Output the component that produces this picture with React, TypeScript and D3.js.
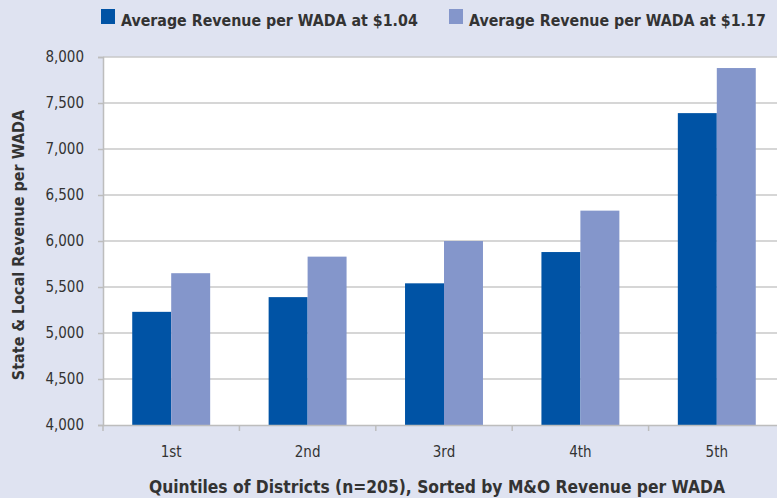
import React, { useRef, useEffect } from "react";
import * as d3 from "d3";

const quintiles = ["1st", "2nd", "3rd", "4th", "5th"];
const revenueAt104 = [5230, 5390, 5540, 5880, 7390];
const revenueAt117 = [5650, 5830, 6000, 6330, 7880];
const seriesNames = [
  "Average Revenue per WADA at $1.04",
  "Average Revenue per WADA at $1.17",
];
const yTicks = [4000, 4500, 5000, 5500, 6000, 6500, 7000, 7500, 8000];

const colors = ["#0053a5", "#8496cb"];
const font = "'DejaVu Sans Condensed', 'DejaVu Sans', sans-serif";

const App = () => {
  const svgRef = useRef<SVGSVGElement>(null);

  useEffect(() => {
    const svg = d3.select(svgRef.current);
    svg.selectAll("*").remove();
    const width = 777;
    const height = 498;
    const margin = { left: 103, top: 57, right: -8, bottom: 73 };

    svg.append("rect").attr("width", width).attr("height", height).attr("fill", "#dfe3f1");

    const x = d3
      .scaleBand()
      .domain(quintiles)
      .range([margin.left, width - margin.right])
      .paddingInner(0)
      .paddingOuter(0);
    const y = d3.scaleLinear().domain([4000, 8000]).range([height - margin.bottom, margin.top]);

    svg
      .append("rect")
      .attr("x", margin.left)
      .attr("y", margin.top)
      .attr("width", width - margin.right - margin.left)
      .attr("height", y(4000) - margin.top)
      .attr("fill", "#ffffff");

    // gridlines
    svg
      .append("g")
      .selectAll("line")
      .data(yTicks.slice(1))
      .enter()
      .append("line")
      .attr("x1", margin.left)
      .attr("x2", width)
      .attr("y1", (d) => y(d))
      .attr("y2", (d) => y(d))
      .attr("stroke", "#c9c9c9")
      .attr("stroke-width", 1.5);

    // bars
    const inner = d3.scaleBand().domain(["a", "b"]).range([0, x.bandwidth()]).paddingOuter(0.75).paddingInner(0);
    const rows = quintiles.map((q, i) => ({ q, vals: [revenueAt104[i], revenueAt117[i]] }));
    const grp = svg
      .append("g")
      .selectAll("g")
      .data(rows)
      .enter()
      .append("g")
      .attr("transform", (d) => `translate(${x(d.q)},0)`);
    grp
      .selectAll("rect")
      .data((d) => d.vals.map((v, k) => ({ v, k })))
      .enter()
      .append("rect")
      .attr("x", (d) => inner(d.k === 0 ? "a" : "b") as number)
      .attr("width", inner.bandwidth())
      .attr("y", (d) => y(d.v))
      .attr("height", (d) => y(4000) - y(d.v))
      .attr("fill", (d) => colors[d.k]);

    // y axis
    const yAxis = svg
      .append("g")
      .attr("transform", `translate(${margin.left},0)`)
      .call(
        d3
          .axisLeft(y)
          .tickValues(yTicks)
          .tickSize(5)
          .tickPadding(14)
          .tickFormat((d) => d3.format(",")(d as number))
      );
    yAxis.select(".domain").attr("stroke", "#bdbdbd").attr("stroke-width", 1.5);
    yAxis.selectAll(".tick line").attr("stroke", "#bdbdbd").attr("stroke-width", 1.5);
    yAxis
      .selectAll(".tick text")
      .attr("font-family", font)
      .attr("font-size", 15)
      .attr("fill", "#333");

    // x axis
    const xAxis = svg
      .append("g")
      .attr("transform", `translate(0,${y(4000)})`)
      .call(d3.axisBottom(x).tickSize(0).tickPadding(21));
    xAxis.select(".domain").attr("stroke", "#bdbdbd").attr("stroke-width", 1.5);
    xAxis
      .selectAll(".tick text")
      .attr("font-family", font)
      .attr("font-size", 15)
      .attr("fill", "#333");
    xAxis
      .selectAll("line.sep")
      .data(quintiles)
      .enter()
      .append("line")
      .attr("class", "sep")
      .attr("x1", (d) => x(d) as number)
      .attr("x2", (d) => x(d) as number)
      .attr("y1", 0)
      .attr("y2", 6)
      .attr("stroke", "#bdbdbd")
      .attr("stroke-width", 1.5);

    // axis titles
    svg
      .append("text")
      .attr("x", 437)
      .attr("y", 493)
      .attr("text-anchor", "middle")
      .attr("font-family", font)
      .attr("font-weight", "bold")
      .attr("font-size", 17.3)
      .attr("fill", "#333")
      .text("Quintiles of Districts (n=205), Sorted by M&O Revenue per WADA");
    svg
      .append("text")
      .attr("transform", `translate(24,245) rotate(-90)`)
      .attr("text-anchor", "middle")
      .attr("font-family", font)
      .attr("font-weight", "bold")
      .attr("font-size", 16)
      .attr("fill", "#333")
      .text("State & Local Revenue per WADA");

    // legend
    const legendX = [101, 449];
    const legend = svg
      .append("g")
      .selectAll("g")
      .data(seriesNames)
      .enter()
      .append("g")
      .attr("transform", (d, i) => `translate(${legendX[i]},9)`);
    legend
      .append("rect")
      .attr("width", 14)
      .attr("height", 15)
      .attr("fill", (d, i) => colors[i]);
    legend
      .append("text")
      .attr("x", 20)
      .attr("y", 17)
      .attr("font-family", font)
      .attr("font-weight", "bold")
      .attr("font-size", 15.8)
      .attr("fill", "#333")
      .text((d) => d);
  }, []);

  return (
    <svg
      ref={svgRef}
      width={777}
      height={498}
      style={{ position: "absolute", left: 0, top: 0 }}
    ></svg>
  );
};

export default App;
